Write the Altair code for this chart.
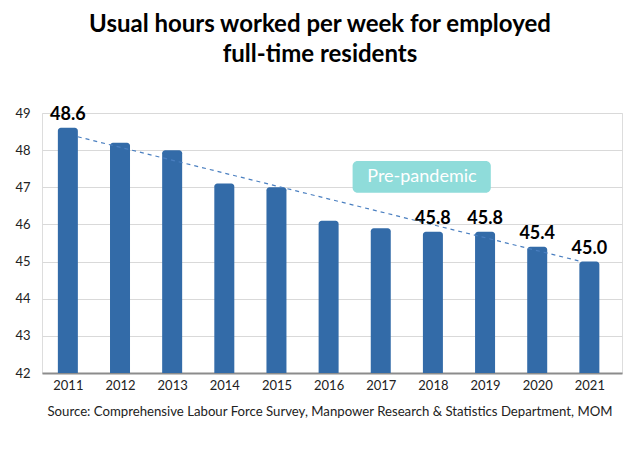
import altair as alt
import pandas as pd

years = [2011, 2012, 2013, 2014, 2015, 2016, 2017, 2018, 2019, 2020, 2021]
hours = [48.6, 48.2, 48.0, 47.1, 47.0, 46.1, 45.9, 45.8, 45.8, 45.4, 45.0]
labelled_years = [2011, 2018, 2019, 2020, 2021]

trend_x = [2011.19, 2020.79]
trend_y = [48.36, 45.02]

note_text = "Pre-pandemic"
note_box_x = [2016.46, 2019.11]
note_box_y = [47.71, 46.85]
note_pos = [2017.79, 47.29]

y_ticks = [42, 43, 44, 45, 46, 47, 48, 49]
title_lines = ["Usual hours worked per week for employed", "full-time residents"]
source = "Source: Comprehensive Labour Force Survey, Manpower Research & Statistics Department, MOM"

FONT = "Lato"

df = pd.DataFrame({"year": years, "hours": hours})
df["label"] = [f"{h:.1f}" if y in labelled_years else "" for y, h in zip(years, hours)]
trend_df = pd.DataFrame({"year": trend_x, "hours": trend_y})
box_df = pd.DataFrame({"year": [note_box_x[0]], "x2": [note_box_x[1]],
                       "hours": [note_box_y[0]], "y2": [note_box_y[1]]})
note_df = pd.DataFrame({"year": [note_pos[0]], "hours": [note_pos[1]], "t": [note_text]})

xscale = alt.Scale(domain=[2010.6, 2021.53], nice=False, zero=False)
yscale = alt.Scale(domain=[42, 49], nice=False, zero=False)

xaxis = alt.Axis(values=years, format="d", grid=False, ticks=False, domain=True,
                 domainColor="#8c8c8c", domainWidth=2, labelFontSize=13,
                 labelFont=FONT, labelColor="#222", labelPadding=6,
                 title=source, titleFont=FONT, titleFontSize=13.2, titleFontWeight="normal",
                 titleColor="#222", titleAnchor="start", titleAlign="left",
                 titleX=5, titleY=42, titleBaseline="alphabetic")
yaxis = alt.Axis(values=y_ticks, tickCount=8, labelOverlap=False, grid=True,
                 gridColor="#d9d9d9", ticks=False, domain=False,
                 labelFontSize=13, labelFont=FONT, labelColor="#222", labelPadding=12,
                 title=None)

X = alt.X("year:Q", scale=xscale, axis=xaxis)
Y = alt.Y("hours:Q", scale=yscale, axis=yaxis)

bars = alt.Chart(df).mark_bar(width=20, color="#336BA8",
                               cornerRadiusTopLeft=3, cornerRadiusTopRight=3).encode(
    x=X, y=Y, y2=alt.datum(42),
)

labels = alt.Chart(df).mark_text(font=FONT, fontSize=18, fontWeight="bold", color="#000",
                                  baseline="alphabetic", dy=-8).encode(
    x=X, y=Y, text="label:N")

trend = alt.Chart(trend_df).mark_line(color="#4a7fc0", strokeDash=[4, 4], strokeWidth=1.2).encode(
    x=X, y=Y)

box = alt.Chart(box_df).mark_rect(color="#8FDCDA", cornerRadius=5).encode(
    x=X, x2="x2", y=Y, y2="y2")

note = alt.Chart(note_df).mark_text(font=FONT, fontSize=18, color="white",
                                     baseline="middle", align="center").encode(
    x=X, y=Y, text="t:N")

chart = alt.layer(bars, trend, labels, box, note).properties(
    width=580, height=260,
    autosize=alt.AutoSizeParams(type="none"),
    padding={"left": 34, "top": 105, "right": 10, "bottom": 69},
    title=alt.TitleParams(title_lines, font=FONT, fontSize=24, fontWeight="bold",
                          color="#000", anchor="middle", dx=-12, offset=39, lineHeight=30),
).configure_view(stroke=None).configure(background="white")

chart.save("out.html", embed_options={"renderer": "svg", "actions": False})
